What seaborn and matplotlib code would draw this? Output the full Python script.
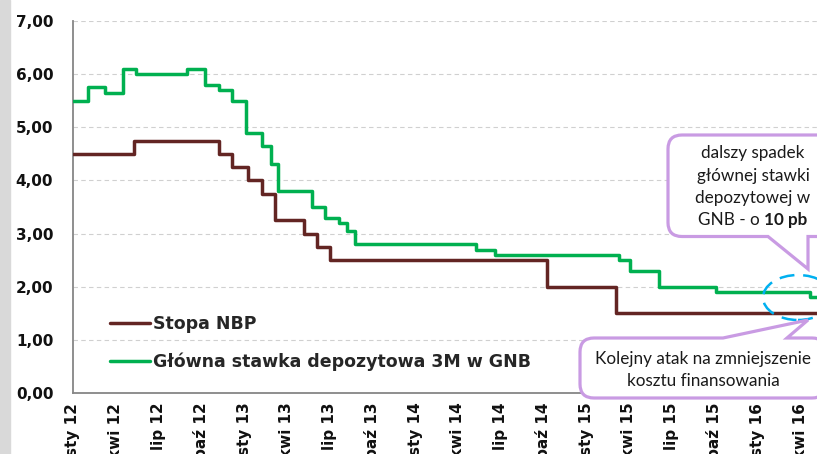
import numpy as np
import pandas as pd
import matplotlib
matplotlib.use("Agg")
import matplotlib.pyplot as plt
import matplotlib.dates as mdates
from matplotlib.path import Path
from matplotlib.patches import PathPatch, Ellipse, Rectangle
from matplotlib.ticker import FuncFormatter
import seaborn as sns

# stopa referencyjna NBP - daty zmian i poziomy
nbp_dates = ['2012-01-01', '2012-05-10', '2012-11-08', '2012-12-06', '2013-01-10',
             '2013-02-07', '2013-03-07', '2013-05-09', '2013-06-06', '2013-07-04',
             '2014-10-09', '2015-03-05', '2016-05-07']
nbp_vals = [4.50, 4.75, 4.50, 4.25, 4.00, 3.75, 3.25, 3.00, 2.75, 2.50, 2.00, 1.50, 1.50]

# glowna stawka depozytowa 3M w GNB
gnb_dates = ['2012-01-01', '2012-02-03', '2012-03-10', '2012-04-17', '2012-05-15',
             '2012-09-01', '2012-10-09', '2012-11-08', '2012-12-06', '2013-01-05',
             '2013-02-08', '2013-02-27', '2013-03-14', '2013-05-25', '2013-06-22',
             '2013-07-22', '2013-08-08', '2013-08-25', '2014-05-11', '2014-06-21',
             '2015-03-11', '2015-04-04', '2015-06-05', '2015-10-05', '2016-04-22',
             '2016-05-07']
gnb_vals = [5.50, 5.75, 5.65, 6.10, 6.00, 6.10, 5.80, 5.70, 5.50, 4.90,
            4.65, 4.30, 3.80, 3.50, 3.30, 3.20, 3.05, 2.80, 2.70, 2.60,
            2.50, 2.30, 2.00, 1.90, 1.80, 1.80]

months_pl = {1: 'sty', 4: 'kwi', 7: 'lip', 10: 'paź'}
series_names = ['Stopa NBP', 'Główna stawka depozytowa 3M w GNB']

nbp = pd.DataFrame({'data': pd.to_datetime(nbp_dates), 'stopa': nbp_vals})
gnb = pd.DataFrame({'data': pd.to_datetime(gnb_dates), 'stopa': gnb_vals})

sns.set_style("white")
plt.rcParams['font.family'] = ['DejaVu Sans']
plt.rcParams['font.weight'] = 'bold'

W, H = 817, 454
fig = plt.figure(figsize=(W / 100, H / 100), dpi=100)
ax = fig.add_axes([72.7 / W, 61 / H, (W - 72.7) / W, 372 / H])

brown = '#632523'
green = '#00B050'
sns.lineplot(data=nbp, x='data', y='stopa', ax=ax, color=brown, lw=2.5,
             drawstyle='steps-post', estimator=None, label=series_names[0], zorder=3)
sns.lineplot(data=gnb, x='data', y='stopa', ax=ax, color=green, lw=2.5,
             drawstyle='steps-post', estimator=None, label=series_names[1], zorder=3)

ax.set_ylim(0, 7)
ax.set_xlim(pd.Timestamp('2012-01-01'), pd.Timestamp('2016-05-07'))
ax.set_xlabel('')
ax.set_ylabel('')
ax.yaxis.set_major_locator(plt.MultipleLocator(1))
ax.yaxis.set_major_formatter(FuncFormatter(lambda v, p: f"{v:.2f}".replace('.', ',')))
ax.xaxis.set_major_locator(mdates.MonthLocator(bymonth=[1, 4, 7, 10]))
ax.xaxis.set_major_formatter(FuncFormatter(
    lambda v, p: f"{months_pl[mdates.num2date(v).month]} {mdates.num2date(v).year % 100:02d}"))

ax.yaxis.grid(True, color='#d0d0d0', linestyle=(0, (4, 3)), lw=0.8)
ax.xaxis.grid(False)
for s in ['top', 'right']:
    ax.spines[s].set_visible(False)
for s in ['left', 'bottom']:
    ax.spines[s].set_color('#868686')
    ax.spines[s].set_linewidth(1.3)
ax.tick_params(axis='both', which='major', direction='out', length=4, width=1.1,
               color='#868686', labelsize=11, labelcolor='#111111')
ax.tick_params(axis='y', pad=10)
ax.tick_params(axis='x', pad=3, labelrotation=90)
for lab in ax.get_xticklabels():
    lab.set_va('top')

leg = ax.legend(loc='center left', bbox_to_anchor=(0.05, 0.134), frameon=False,
                borderpad=0, borderaxespad=0, handlelength=2.3, handletextpad=0.2,
                labelspacing=1.15, prop={'weight': 'bold', 'size': 12.5})

# szary pasek z lewej
fig.add_artist(Rectangle((0, 0), 10 / W, 1, transform=fig.transFigure,
                         color='#d9d9d9', zorder=1))


def px(x, y):
    return (x / W, 1 - y / H)


def callout(L, T, R, B, r, side, x1, x2, tip):
    verts, codes = [], []

    def add(p, c):
        verts.append(px(*p))
        codes.append(c)
    add((L + r, T), Path.MOVETO)
    if side == 'top':
        add((x1, T), Path.LINETO)
        add(tip, Path.LINETO)
        add((x2, T), Path.LINETO)
    add((R - r, T), Path.LINETO)
    add((R, T), Path.CURVE3)
    add((R, T + r), Path.CURVE3)
    add((R, B - r), Path.LINETO)
    add((R, B), Path.CURVE3)
    add((R - r, B), Path.CURVE3)
    if side == 'bottom':
        add((x2, B), Path.LINETO)
        add(tip, Path.LINETO)
        add((x1, B), Path.LINETO)
    add((L + r, B), Path.LINETO)
    add((L, B), Path.CURVE3)
    add((L, B - r), Path.CURVE3)
    add((L, T + r), Path.LINETO)
    add((L, T), Path.CURVE3)
    add((L + r, T), Path.CURVE3)
    add((L + r, T), Path.CLOSEPOLY)
    return Path(verts, codes)


purple = '#C99BE3'
ell = Ellipse(px(798, 297.5), 70 / W, 45 / H, transform=fig.transFigure,
              fill=False, edgecolor='#00B0F0', lw=1.8, linestyle=(0, (6, 3.5)), zorder=9)
fig.add_artist(ell)

fig.add_artist(PathPatch(callout(668, 135, 838, 236.5, 14, 'bottom', 768, 808, (808, 269)),
                         transform=fig.transFigure, facecolor='white', edgecolor=purple,
                         lw=2.3, zorder=10))
fig.add_artist(PathPatch(callout(580, 338, 826, 398, 14, 'top', 723, 787, (808, 320)),
                         transform=fig.transFigure, facecolor='white', edgecolor=purple,
                         lw=2.3, zorder=10))

cfont = ['Lato', 'DejaVu Sans']
txt_kw = dict(transform=fig.transFigure, ha='center', va='center', fontsize=12.3,
              fontweight='normal', family=cfont, color='#1a1a1a', zorder=11)
for i, line in enumerate(['dalszy spadek', 'głównej stawki', 'depozytowej w']):
    fig.text(*px(753, 153 + 22.5 * i), line, **txt_kw)

# ostatnia linia z pogrubionym fragmentem
renderer = fig.canvas.get_renderer()
t1 = fig.text(0, 0, 'GNB - o ', transform=fig.transFigure, fontsize=12.3, color='#1a1a1a',
              va='center', ha='left', fontweight='normal', family=cfont, zorder=11)
t2 = fig.text(0, 0, '10 pb', transform=fig.transFigure, fontsize=12.3, color='#1a1a1a',
              va='center', ha='left', fontweight='bold', family=cfont, zorder=11)
w1 = t1.get_window_extent(renderer).width
w2 = t2.get_window_extent(renderer).width
x0 = 753 - (w1 + w2) / 2
t1.set_position(px(x0, 220.5))
t2.set_position(px(x0 + w1, 220.5))

fig.text(*px(703, 359), 'Kolejny atak na zmniejszenie', **txt_kw)
fig.text(*px(703, 381.5), 'kosztu finansowania', **txt_kw)

fig.savefig('out.png', dpi=100)
